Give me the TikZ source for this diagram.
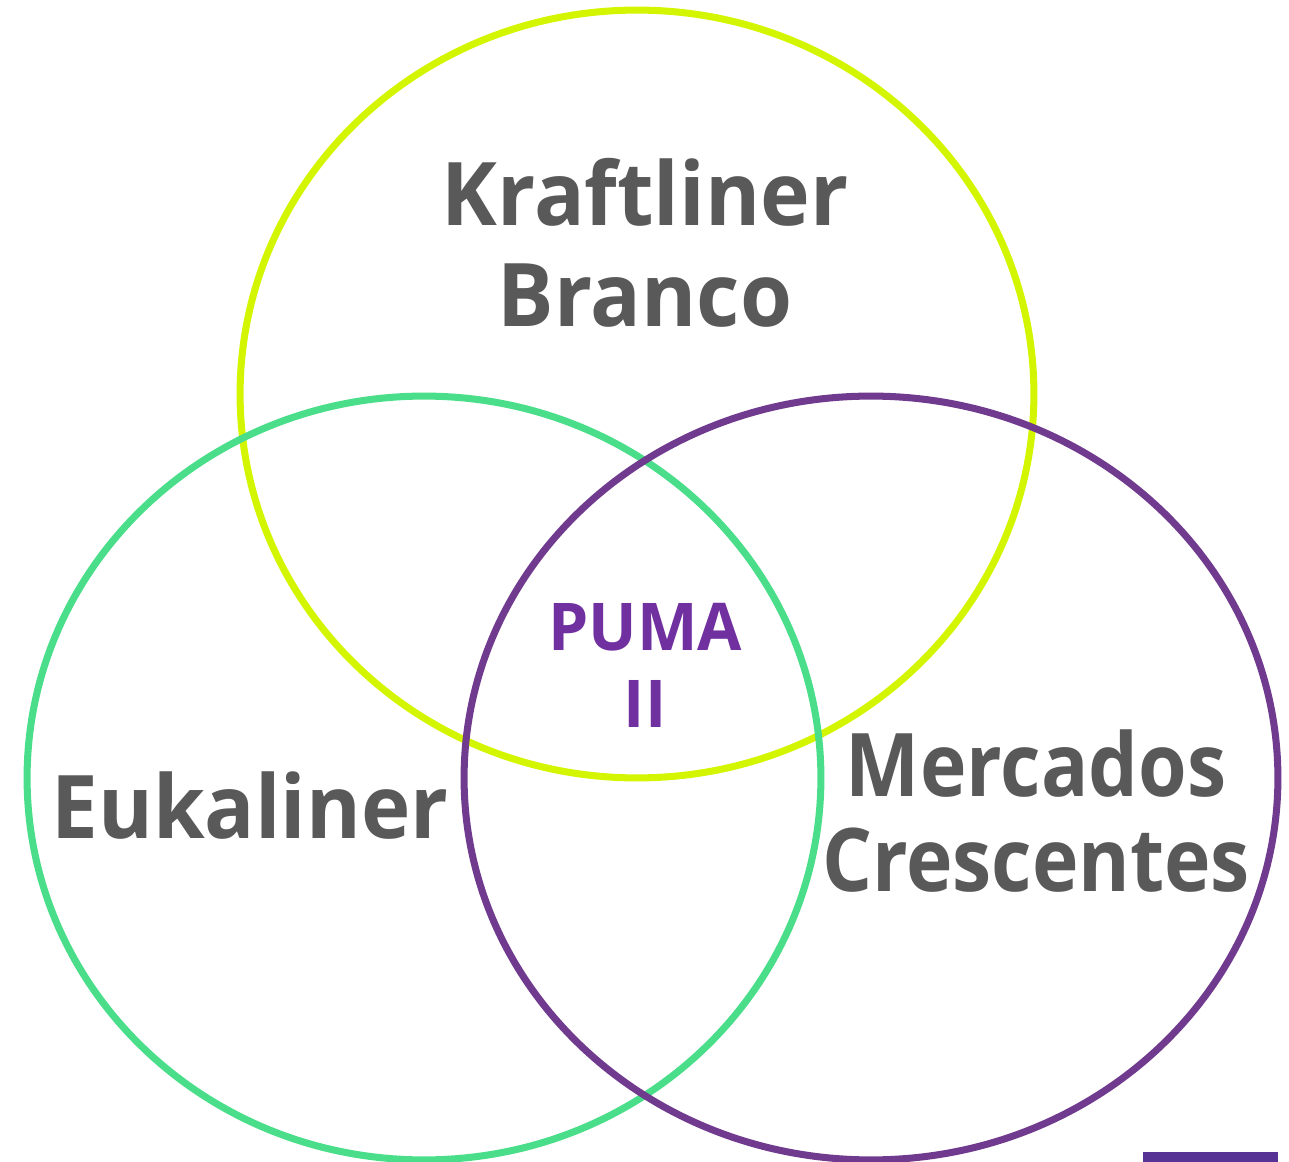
\documentclass[tikz,border=0pt]{standalone}
\usepackage{fontspec}
\setmainfont{Open Sans}
\usepackage{xcolor}
\definecolor{limering}{RGB}{212,245,0}
\definecolor{greenring}{RGB}{74,222,138}
\definecolor{purplering}{RGB}{112,58,142}
\definecolor{labelgray}{RGB}{89,89,89}
\definecolor{pumapurple}{RGB}{112,48,160}
\definecolor{barpurple}{RGB}{88,51,150}
\tikzset{
  ring/.style={line width=4pt},
  biglabel/.style 2 args={text=labelgray, align=center, inner sep=0pt,
                   font=\fontsize{50}{#1}\selectfont\bfseries\addfontfeature{FakeStretch=#2}},
  centrelabel/.style={text=pumapurple, align=center, inner sep=0pt,
                      font=\fontsize{37.5}{43.8}\selectfont\bfseries\addfontfeature{FakeStretch=0.975}}
}

\begin{document}
\begin{tikzpicture}[x=0.02cm, y=-0.02cm]
\useasboundingbox (0,0) rectangle (1289,1162);
% the three sets
\draw[ring, limering] (637,394) ellipse [x radius=7.94cm, y radius=7.68cm];
\draw[ring, greenring] (424,778) ellipse [x radius=7.94cm, y radius=7.64cm];
\draw[ring, purplering] (871,778) ellipse [x radius=8.14cm, y radius=7.64cm];
% labels
\node[biglabel={57.5}{0.957}] (kraft) at (645,243) {Kraftliner\\Branco};
\node[biglabel={57.5}{0.95}] (euka) at (250,806) {Eukaliner};
\node[biglabel={54}{0.895}] (merc) at (1036,811) {Mercados\\Crescentes};
\node[centrelabel] (puma) at (645,665) {PUMA\\II};
% corner bar
\fill[barpurple] (1143,1152) rectangle (1278,1162);
\end{tikzpicture}
\end{document}
